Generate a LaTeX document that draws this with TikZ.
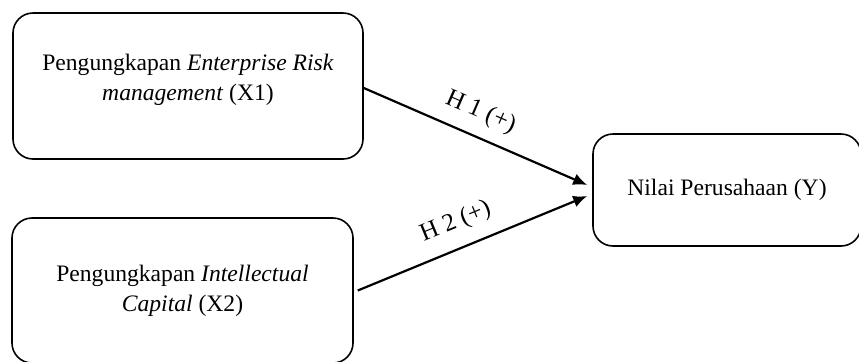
\documentclass[tikz,border=0pt]{standalone}
\usepackage{fontspec}
\setmainfont{Liberation Serif}
\usetikzlibrary{arrows.meta}
\begin{document}
\begin{tikzpicture}[x=0.5pt, y=-0.5pt,
		box/.style={draw, rounded corners=10pt, line width=0.8pt, align=center, font=\fontsize{11.8}{15}\selectfont},
		arr/.style={line width=1.1pt, -{Latex[length=7pt,width=6pt]}},
		lab/.style={sloped, font=\fontsize{12.5}{15}\selectfont}]
	\useasboundingbox (0,0) rectangle (859,361);
	\node[box, minimum width=175pt, minimum height=73pt] (X1) at (188,86) {Pengungkapan \textit{Enterprise Risk}\\ \textit{management} (X1)\\[-6pt]};
	\node[box, minimum width=170.5pt, minimum height=72.5pt] (X2) at (182.5,290.5) {Pengungkapan \textit{Intellectual}\\ \textit{Capital} (X2)};
	\node[box, minimum width=134pt, minimum height=56pt] (Y) at (727,190) {Nilai Perusahaan (Y)};
	
	\coordinate (in1) at ([xshift=-2.5pt, yshift=2.5pt]Y.west);
	\coordinate (in2) at ([xshift=-2.5pt, yshift=-3pt]Y.west);
	
	\draw[arr] ([yshift=-1pt]X1.east) -- (in1) node[lab, pos=0.48, above=2.5pt] () {H 1 (+)};
	\draw[arr] ([xshift=2pt]X2.east) -- (in2) node[lab, pos=0.47, above=3.5pt] () {H 2 (+)};
\end{tikzpicture}
\end{document}
